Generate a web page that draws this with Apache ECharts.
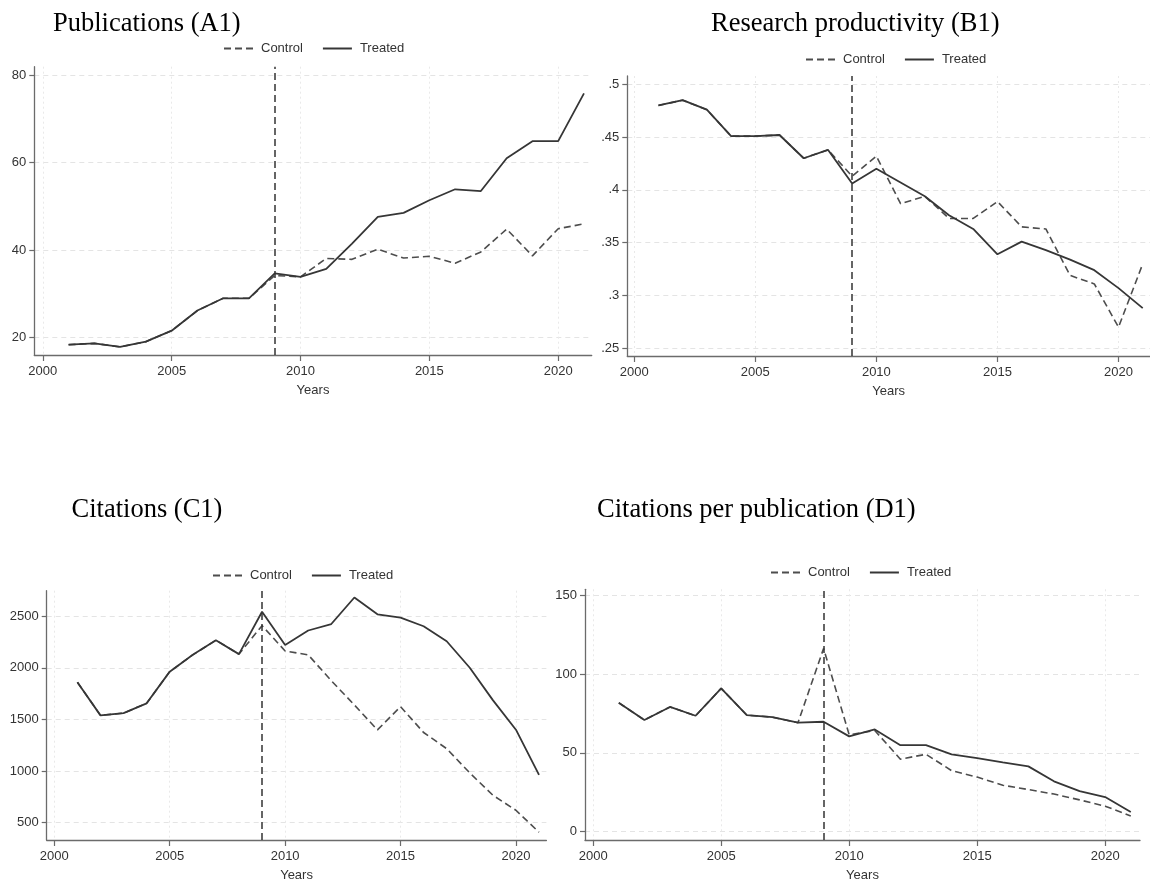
<!DOCTYPE html>
<html><head><meta charset="utf-8">
<script src="https://cdn.jsdelivr.net/npm/echarts@6/dist/echarts.min.js"></script>
<style>html,body{margin:0;padding:0;background:#fff}#chart{width:1150px;height:883px}</style>
</head><body><div id="chart"></div>
<script>
// ---- data ----
const years = [2001,2002,2003,2004,2005,2006,2007,2008,2009,2010,2011,2012,2013,2014,2015,2016,2017,2018,2019,2020,2021];
const xTicks = [2000,2005,2010,2015,2020];
const treatmentYear = 2009;
const seriesNames = ['Control','Treated'];
const xAxisTitle = 'Years';

const pubTitle = 'Publications (A1)';
const pubTreated = [18.4,18.7,17.9,19.1,21.6,26.2,29.0,29.0,34.7,33.9,35.7,41.5,47.6,48.5,51.4,53.9,53.5,61.0,64.9,64.9,75.8];
const pubControl = [18.4,18.7,17.9,19.1,21.6,26.2,29.0,29.0,34.2,33.9,38.1,37.9,40.2,38.2,38.6,37.0,39.6,44.8,38.7,44.9,46.0];
const pubTicks = [20,40,60,80];

const prodTitle = 'Research productivity (B1)';
const prodTreated = [0.480,0.485,0.476,0.451,0.451,0.452,0.430,0.438,0.406,0.420,0.407,0.394,0.376,0.363,0.339,0.351,0.343,0.334,0.324,0.307,0.288];
const prodControl = [0.480,0.485,0.476,0.451,0.451,0.452,0.430,0.438,0.413,0.432,0.387,0.394,0.373,0.373,0.389,0.365,0.363,0.319,0.311,0.270,0.330];
const prodTicks = [0.25,0.3,0.35,0.4,0.45,0.5];

const citTitle = 'Citations (C1)';
const citTreated = [1860,1539,1561,1656,1963,2126,2268,2133,2544,2221,2362,2425,2682,2519,2487,2403,2258,2001,1687,1400,962];
const citControl = [1860,1539,1561,1656,1963,2126,2268,2133,2409,2164,2126,1875,1640,1398,1624,1373,1216,981,765,619,406];
const citTicks = [500,1000,1500,2000,2500];

const cppTitle = 'Citations per publication (D1)';
const cppTreated = [81.8,70.9,79.2,73.6,91.0,74.0,72.7,69.2,69.8,60.5,64.9,54.9,54.9,49.1,46.6,43.9,41.4,31.9,25.7,21.9,12.4];
const cppControl = [81.8,70.9,79.2,73.6,91.0,74.0,72.7,69.2,116.4,61.5,64.2,46.0,49.1,38.7,34.6,29.4,26.7,23.8,20.1,16.1,9.9];
const cppTicks = [0,50,100,150];

// ---- layout / style ----
const SANS = '"Liberation Sans", Arial, Helvetica, sans-serif';
const SERIF = '"Liberation Serif", "Times New Roman", serif';
const AXIS_COLOR = '#6b6b6b';
const LABEL_COLOR = '#333';

const panels = [
  {title:pubTitle, tLeft:53, tTop:11, treated:pubTreated, control:pubControl, ticks:pubTicks,
   grid:{left:34.3, top:66.7, width:557.4, height:288.3}, x:[1999.67,2021.3], y:[16.05,81.9],
   legend:{left:223, top:42}, fmt:v=>String(v)},
  {title:prodTitle, tLeft:711, tTop:11, treated:prodTreated, control:prodControl, ticks:prodTicks,
   grid:{left:627.3, top:76, width:529, height:280}, x:[1999.714,2021.3], y:[0.2427,0.5079],
   legend:{left:805, top:53}, fmt:v=>String(v).replace(/^0\./,'.')},
  {title:citTitle, tLeft:71.5, tTop:496.5, treated:citTreated, control:citControl, ticks:citTicks,
   grid:{left:46.7, top:590.7, width:499.7, height:256.6}, x:[1999.67,2021.32], y:[330.5,2748],
   legend:{left:212, top:569}, fmt:v=>String(v)},
  {title:cppTitle, tLeft:597, tTop:496.5, treated:cppTreated, control:cppControl, ticks:cppTicks,
   grid:{left:585, top:589.3, width:555, height:256.7}, x:[1999.68,2021.36], y:[-5.4,154],
   legend:{left:770, top:566}, fmt:v=>String(v)}
];

const option = {animation:false, backgroundColor:'#fff', title:[], legend:[], grid:[], xAxis:[], yAxis:[], series:[]};

panels.forEach((p, i) => {
  option.title.push({text:p.title, left:p.tLeft, top:p.tTop, padding:0,
    textStyle:{fontFamily:SERIF, fontSize:26.5, fontWeight:'normal', color:'#000'}});
  option.legend.push({data:seriesNames, left:p.legend.left, top:p.legend.top, padding:0,
    itemWidth:29, itemHeight:14, itemGap:19, selectedMode:false,
    itemStyle:{opacity:0},
    textStyle:{fontFamily:SANS, fontSize:13, color:LABEL_COLOR, padding:[0,0,0,3]}});
  option.grid.push(Object.assign({containLabel:false}, p.grid));
  option.xAxis.push({type:'value', gridIndex:i, min:p.x[0], max:p.x[1],
    name:xAxisTitle, nameLocation:'middle', nameGap:29,
    nameTextStyle:{fontFamily:SANS, fontSize:13, color:LABEL_COLOR},
    axisLine:{show:true, onZero:false, lineStyle:{color:AXIS_COLOR, width:1.3}},
    axisTick:{show:true, length:6, customValues:xTicks, lineStyle:{color:AXIS_COLOR, width:1.2}},
    axisLabel:{customValues:xTicks, fontFamily:SANS, fontSize:13, color:LABEL_COLOR, margin:10, formatter:v=>String(v)},
    splitLine:{show:true, lineStyle:{color:'#e9e9e9', type:[2,3], width:1}}});
  option.yAxis.push({type:'value', gridIndex:i, min:p.y[0], max:p.y[1],
    axisLine:{show:true, onZero:false, lineStyle:{color:AXIS_COLOR, width:1.3}},
    axisTick:{show:true, length:5, customValues:p.ticks, lineStyle:{color:AXIS_COLOR, width:1.2}},
    axisLabel:{customValues:p.ticks, fontFamily:SANS, fontSize:13, color:LABEL_COLOR, margin:8, formatter:p.fmt},
    splitLine:{show:true, lineStyle:{color:'#e4e4e4', type:[5,4], width:1}}});
  option.series.push({type:'line', name:seriesNames[0], xAxisIndex:i, yAxisIndex:i, z:2,
    data:years.map((yr,k)=>[yr, p.control[k]]), symbol:'none',
    itemStyle:{color:'#4d4d4d'}, lineStyle:{color:'#4d4d4d', width:1.6, type:[7,4]},
    markLine:{silent:true, symbol:'none', label:{show:false}, animation:false,
      lineStyle:{color:'#333', width:1.5, type:[7,4]}, data:[{xAxis:treatmentYear}]}});
  option.series.push({type:'line', name:seriesNames[1], xAxisIndex:i, yAxisIndex:i, z:3,
    data:years.map((yr,k)=>[yr, p.treated[k]]), symbol:'none',
    itemStyle:{color:'#363636'}, lineStyle:{color:'#363636', width:1.8, type:'solid'}});
});

const chart = echarts.init(document.getElementById('chart'), null, {renderer:'canvas'});
chart.setOption(option);
</script></body></html>
